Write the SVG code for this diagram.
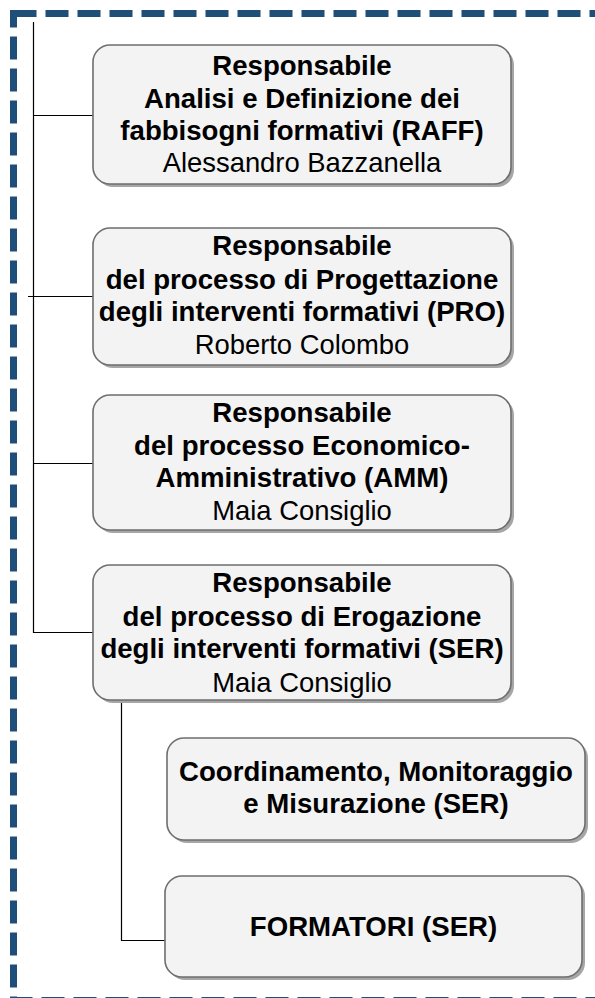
<svg xmlns="http://www.w3.org/2000/svg" width="595" height="998" viewBox="0 0 595 998">
<style>
.frame{fill:none;stroke:#1f4e79;stroke-width:7;stroke-dasharray:23 9}
.shadow{fill:#a6a6a6}
.box{fill:#f3f3f3;stroke:#6e6e6e;stroke-width:1.6}
.conn{fill:none;stroke:#000;stroke-width:1.2}
.b{font-family:"Liberation Sans",Arial,sans-serif;font-size:27.6px;font-weight:bold;fill:#000;text-anchor:middle}
.n{font-family:"Liberation Sans",Arial,sans-serif;font-size:27.4px;fill:#000;text-anchor:middle}
</style>
<rect class="frame" x="13.5" y="13.5" width="620" height="987"/>
<g id="connectors">
<path class="conn" d="M33.5,22 V632.5 H93"/>
<line class="conn" x1="33.5" y1="115.5" x2="93" y2="115.5"/>
<line class="conn" x1="28" y1="296.5" x2="93" y2="296.5"/>
<line class="conn" x1="33.5" y1="463.5" x2="93" y2="463.5"/>
<path class="conn" d="M121.5,700 V940.5 H165"/>
</g>
<g id="raff">
<rect class="shadow" x="96" y="48" width="418" height="139" rx="17"/>
<rect class="box" x="93" y="45" width="418" height="139" rx="17"/>
<text class="b" x="302" y="75">Responsabile</text>
<text class="b" x="302" y="108">Analisi e Definizione dei</text>
<text class="b" x="302" y="140">fabbisogni formativi (RAFF)</text>
<text class="n" x="302" y="172">Alessandro Bazzanella</text>
</g>
<g id="pro">
<rect class="shadow" x="96" y="231" width="418" height="137" rx="17"/>
<rect class="box" x="93" y="228" width="418" height="137" rx="17"/>
<text class="b" x="302" y="255">Responsabile</text>
<text class="b" x="302" y="289">del processo di Progettazione</text>
<text class="b" x="302" y="321">degli interventi formativi (PRO)</text>
<text class="n" x="302" y="354">Roberto Colombo</text>
</g>
<g id="amm">
<rect class="shadow" x="96" y="398" width="418" height="135" rx="17"/>
<rect class="box" x="93" y="395" width="418" height="135" rx="17"/>
<text class="b" x="302" y="422">Responsabile</text>
<text class="b" x="302" y="455">del processo Economico-</text>
<text class="b" x="302" y="487">Amministrativo (AMM)</text>
<text class="n" x="302" y="520">Maia Consiglio</text>
</g>
<g id="ser">
<rect class="shadow" x="96" y="568" width="418" height="135" rx="17"/>
<rect class="box" x="93" y="565" width="418" height="135" rx="17"/>
<text class="b" x="302" y="592">Responsabile</text>
<text class="b" x="302" y="626">del processo di Erogazione</text>
<text class="b" x="302" y="658">degli interventi formativi (SER)</text>
<text class="n" x="302" y="692">Maia Consiglio</text>
</g>
<g id="coord">
<rect class="shadow" x="170" y="741" width="418" height="102" rx="17"/>
<rect class="box" x="167" y="738" width="418" height="102" rx="17"/>
<text class="b" x="376" y="781">Coordinamento, Monitoraggio</text>
<text class="b" x="376" y="813">e Misurazione (SER)</text>
</g>
<g id="formatori">
<rect class="shadow" x="168" y="879" width="417" height="101" rx="17"/>
<rect class="box" x="165" y="876" width="417" height="101" rx="17"/>
<text class="b" x="373.5" y="936">FORMATORI (SER)</text>
</g>
</svg>
